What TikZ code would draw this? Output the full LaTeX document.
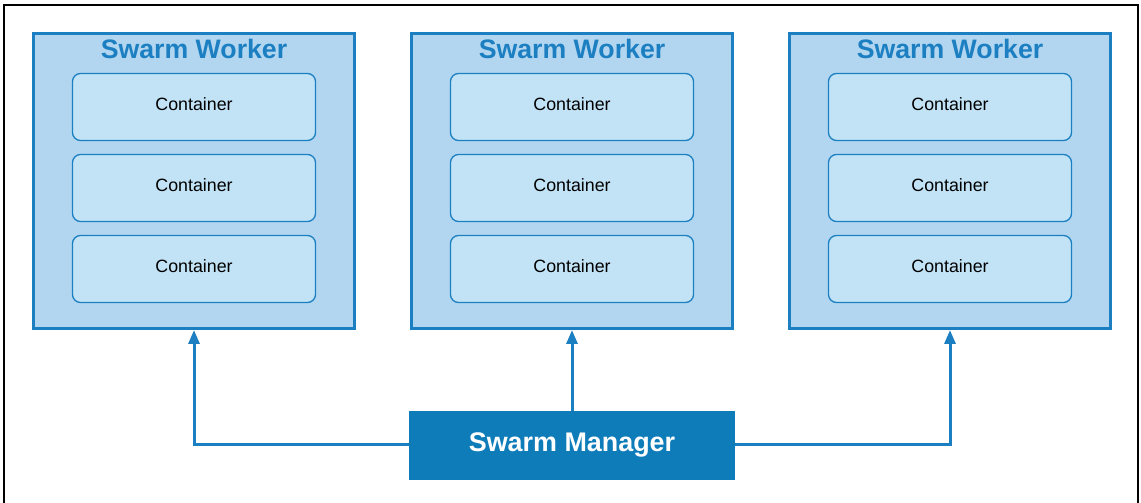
\documentclass[tikz,border=0pt]{standalone}
\usepackage{fontspec}
\setmainfont{Liberation Sans}
\usetikzlibrary{arrows.meta}
\definecolor{bordblue}{HTML}{1B7FC1}
\definecolor{workfill}{HTML}{B3D6F0}
\definecolor{contfill}{HTML}{C2E3F6}
\definecolor{mgrfill}{HTML}{0F7CBA}
\tikzset{
  worker/.style={draw=bordblue, fill=workfill, line width=3pt, minimum width=321pt, minimum height=295pt, inner sep=0pt},
  container/.style={draw=bordblue, fill=contfill, line width=1.3pt, rounded corners=8pt, minimum width=243pt, minimum height=67pt, inner sep=0pt, text height=12.7pt, text depth=6pt, font=\fontsize{17.8}{20}\selectfont, text=black},
  wtitle/.style={font=\fontsize{26.7}{30}\selectfont\bfseries, text=bordblue, inner sep=0pt},
  manager/.style={fill=mgrfill, draw=mgrfill, minimum width=325pt, minimum height=68pt, inner sep=0pt, font=\fontsize{26.9}{30}\selectfont\bfseries, text=white},
  conn/.style={draw=bordblue, line width=3pt, -{Triangle[length=14pt,width=11pt]}},
}
\begin{document}
\begin{tikzpicture}[x=1pt,y=1pt]
\useasboundingbox (0,0) rectangle (1141,503);
% outer frame (no bottom edge visible)
\draw[line width=2.2pt, black] (4,-5) -- (4,498) -- (1138,498) -- (1138,-5);
\foreach \i/\cx in {1/194,2/572,3/950}{
  \node[worker] (w\i) at (\cx,322) {};
  \node[wtitle] (t\i) at (\cx,454) {Swarm Worker};
  \node[container] (c\i a) at (\cx,396) {Container};
  \node[container] (c\i b) at (\cx,315) {Container};
  \node[container] (c\i c) at (\cx,234) {Container};
}
\node[manager] (m) at (572,58) {Swarm Manager};
\draw[conn] (m.north) -- (w2.south);
\draw[conn] (m.west) -| (w1.south);
\draw[conn] (m.east) -| (w3.south);
\end{tikzpicture}
\end{document}
